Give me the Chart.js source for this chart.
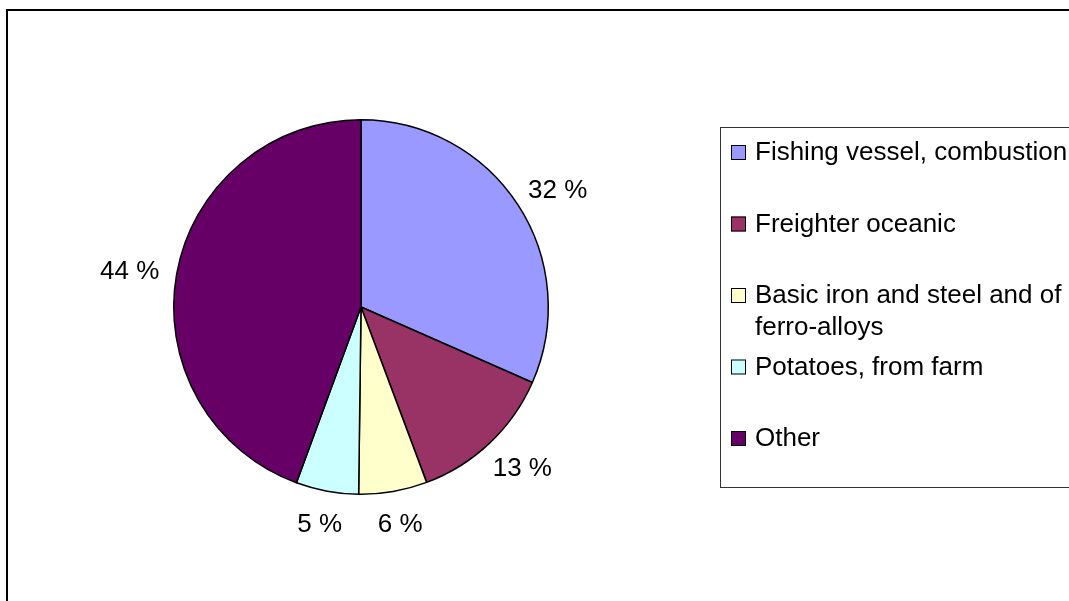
<!DOCTYPE html>
<html>
<head>
<meta charset="utf-8">
<script src="https://cdn.jsdelivr.net/npm/chart.js@4/dist/chart.umd.min.js"></script>
<style>
  html, body { margin: 0; padding: 0; background: #fff; }
  canvas { display: block; }
</style>
</head>
<body>
<canvas id="pie" width="1069" height="601"></canvas>
<script>
// slice data
const categories = [
  "Fishing vessel, combustion",
  "Freighter oceanic",
  "Basic iron and steel and of ferro-alloys",
  "Potatoes, from farm",
  "Other"
];
const shares = [31.6, 12.7, 5.9, 5.4, 44.4];
const sliceColors = ["#9999FF", "#993366", "#FFFFCC", "#CCFFFF", "#660066"];

const FONT = "26px 'Liberation Sans', Arial, sans-serif";

// outer frame of the chart object
const framePlugin = {
  id: "frame",
  beforeDraw(chart) {
    const ctx = chart.ctx;
    ctx.save();
    ctx.fillStyle = "#fff";
    ctx.fillRect(0, 0, chart.width, chart.height);
    ctx.strokeStyle = "#000";
    ctx.lineWidth = 2;
    ctx.strokeRect(7, 10, 2000, 2000);
    ctx.restore();
  }
};

// "32 %" style labels just outside each slice
const pctLabels = {
  id: "pctLabels",
  afterDatasetsDraw(chart) {
    const ctx = chart.ctx;
    const ds = chart.data.datasets[0];
    const total = ds.data.reduce((a, b) => a + b, 0);
    ctx.save();
    ctx.font = FONT;
    ctx.fillStyle = "#000";
    ctx.textAlign = "center";
    ctx.textBaseline = "middle";
    chart.getDatasetMeta(0).data.forEach((arc, i) => {
      const p = arc.getProps(["x", "y", "startAngle", "endAngle", "outerRadius"], true);
      const a = (p.startAngle + p.endAngle) / 2;
      const txt = Math.round(ds.data[i] / total * 100) + " %";
      const w = ctx.measureText(txt).width;
      const d = p.outerRadius + 18;
      const cx = p.x + Math.cos(a) * d + Math.cos(a) * w / 2;
      const cy = p.y + Math.sin(a) * d + Math.sin(a) * 13 + 3;
      ctx.fillText(txt, cx, cy);
    });
    ctx.restore();
  }
};

// boxed legend on the right, wrapping long names
const boxLegend = {
  id: "boxLegend",
  afterDraw(chart) {
    const ctx = chart.ctx;
    const labels = chart.data.labels;
    const colors = chart.data.datasets[0].backgroundColor;
    const box = { x: 720.5, y: 127.5, w: 600, h: 360 };
    const firstRow = 152, rowStep = 71.5, lineH = 32, maxW = 322;
    ctx.save();
    ctx.strokeStyle = "#333";
    ctx.lineWidth = 1;
    ctx.strokeRect(box.x, box.y, box.w, box.h);
    ctx.font = FONT;
    ctx.textBaseline = "middle";
    ctx.textAlign = "left";
    labels.forEach((lab, i) => {
      const y = firstRow + i * rowStep;
      ctx.fillStyle = colors[i];
      ctx.fillRect(731, y - 7, 15, 15);
      ctx.strokeStyle = "#000";
      ctx.strokeRect(731.5, y - 6.5, 14, 14);
      // word wrap
      const words = lab.split(" ");
      const lines = [];
      let cur = "";
      words.forEach(wd => {
        const t = cur ? cur + " " + wd : wd;
        if (ctx.measureText(t).width > maxW && cur) { lines.push(cur); cur = wd; }
        else cur = t;
      });
      lines.push(cur);
      ctx.fillStyle = "#000";
      lines.forEach((ln, k) => ctx.fillText(ln, 755, y + 1 + k * lineH));
    });
    ctx.restore();
  }
};

new Chart(document.getElementById("pie"), {
  type: "pie",
  data: {
    labels: categories,
    datasets: [{
      data: shares,
      backgroundColor: sliceColors,
      borderColor: "#000",
      borderWidth: 1.5
    }]
  },
  options: {
    responsive: false,
    animation: false,
    layout: { padding: { left: 173, right: 520, top: 119, bottom: 106 } },
    plugins: {
      legend: { display: false },
      tooltip: { enabled: false }
    }
  },
  plugins: [framePlugin, pctLabels, boxLegend]
});
</script>
</body>
</html>
